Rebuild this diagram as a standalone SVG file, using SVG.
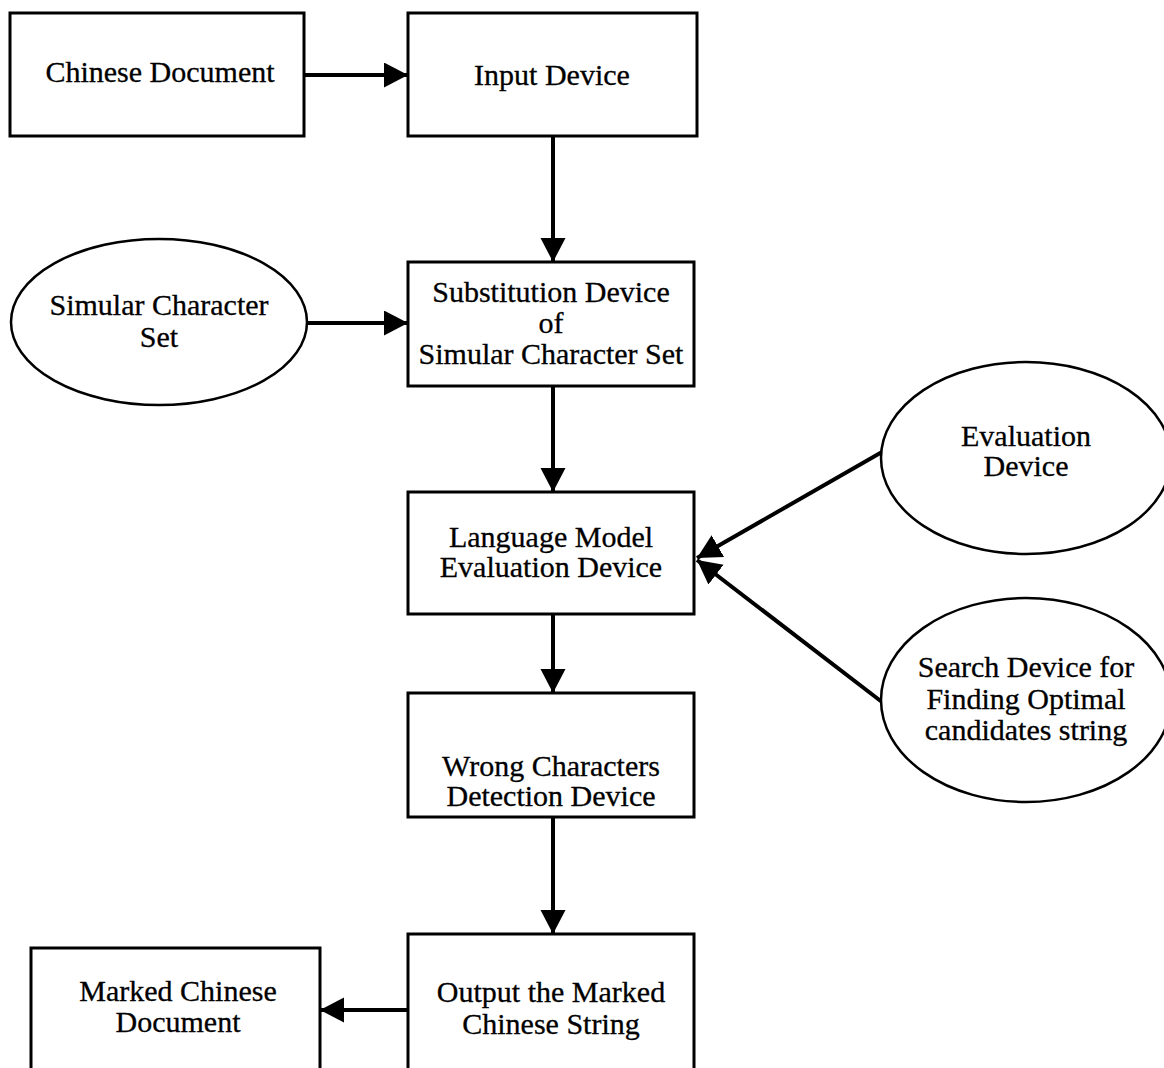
<svg xmlns="http://www.w3.org/2000/svg" width="1164" height="1068" viewBox="0 0 1164 1068">
<style>
.box{fill:#fff;stroke:#000;stroke-width:3}
.ell{fill:#fff;stroke:#000;stroke-width:2.5}
.t{font-family:"Liberation Serif","Times New Roman",serif;font-size:30px;fill:#000;stroke:#000;stroke-width:0.3;text-anchor:middle}
.c{stroke:#000;stroke-width:4;fill:none;marker-end:url(#ah)}
</style>
<defs>
<marker id="ah" markerUnits="userSpaceOnUse" markerWidth="26" markerHeight="26" refX="24" refY="12.5" orient="auto" viewBox="0 0 26 26">
<path d="M0,0 L24,12.5 L0,25 Z" fill="#000"/>
</marker>
</defs>
<rect width="1164" height="1068" fill="#fff"/>
<g id="connectors">
<line class="c" x1="304" y1="75" x2="408" y2="75"/>
<line class="c" x1="553" y1="136" x2="553" y2="262"/>
<line class="c" x1="307" y1="323" x2="408" y2="323"/>
<line class="c" x1="553" y1="386" x2="553" y2="492"/>
<line class="c" x1="882" y1="452" x2="697" y2="558"/>
<line class="c" x1="882" y1="702" x2="697" y2="560"/>
<line class="c" x1="553" y1="614" x2="553" y2="693"/>
<line class="c" x1="553" y1="817" x2="553" y2="934"/>
<line class="c" x1="408" y1="1010" x2="320" y2="1010"/>
</g>
<g id="chinese-document">
<rect class="box" x="10" y="13" width="294" height="123"/>
<text class="t" x="160" y="82">Chinese Document</text>
</g>
<g id="input-device">
<rect class="box" x="408" y="13" width="289" height="123"/>
<text class="t" x="552" y="85">Input Device</text>
</g>
<g id="simular-character-set">
<ellipse class="ell" cx="159" cy="322" rx="148" ry="83"/>
<text class="t" x="159" y="315">Simular Character</text>
<text class="t" x="159" y="347">Set</text>
</g>
<g id="substitution-device">
<rect class="box" x="408" y="262" width="286" height="124"/>
<text class="t" x="551" y="302">Substitution Device</text>
<text class="t" x="551" y="333">of</text>
<text class="t" x="551" y="364">Simular Character Set</text>
</g>
<g id="evaluation-device">
<ellipse class="ell" cx="1026" cy="458" rx="145" ry="96"/>
<text class="t" x="1026" y="446">Evaluation</text>
<text class="t" x="1026" y="476">Device</text>
</g>
<g id="language-model">
<rect class="box" x="408" y="492" width="286" height="122"/>
<text class="t" x="551" y="547">Language Model</text>
<text class="t" x="551" y="577">Evaluation Device</text>
</g>
<g id="search-device">
<ellipse class="ell" cx="1026" cy="700" rx="145" ry="102"/>
<text class="t" x="1026" y="677">Search Device for</text>
<text class="t" x="1026" y="709">Finding Optimal</text>
<text class="t" x="1026" y="740">candidates string</text>
</g>
<g id="wrong-characters">
<rect class="box" x="408" y="693" width="286" height="124"/>
<text class="t" x="551" y="776">Wrong Characters</text>
<text class="t" x="551" y="806">Detection Device</text>
</g>
<g id="output-marked">
<rect class="box" x="408" y="934" width="286" height="150"/>
<text class="t" x="551" y="1002">Output the Marked</text>
<text class="t" x="551" y="1034">Chinese String</text>
</g>
<g id="marked-document">
<rect class="box" x="31" y="948" width="289" height="136"/>
<text class="t" x="178" y="1001">Marked Chinese</text>
<text class="t" x="178" y="1032">Document</text>
</g>
</svg>
